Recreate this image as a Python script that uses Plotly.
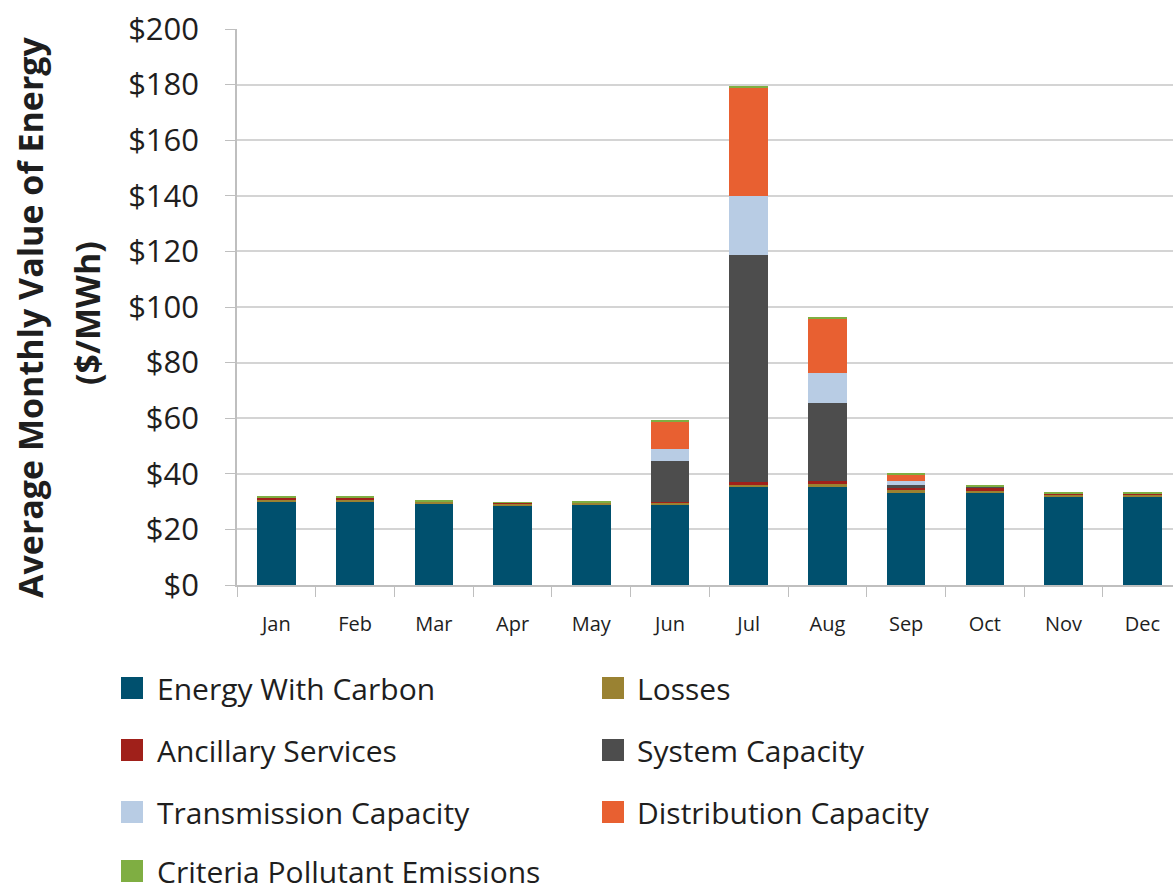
import plotly.graph_objects as go

months = ["Jan", "Feb", "Mar", "Apr", "May", "Jun",
          "Jul", "Aug", "Sep", "Oct", "Nov", "Dec"]

# Components of average monthly energy value ($/MWh), stacked bottom to top
energy_with_carbon = [30.0, 30.0, 29.4, 28.7, 28.8, 28.6, 35.1, 35.1, 33.0, 33.0, 31.6, 31.6]
losses             = [0.6, 0.6, 0.5, 0.6, 0.7, 1.2, 1.0, 1.3, 1.5, 0.8, 1.1, 1.1]
ancillary_services = [0.8, 0.7, 0.2, 0.2, 0.3, 0.2, 0.8, 1.0, 0.4, 1.1, 0.1, 0.1]
system_capacity    = [0.0, 0.0, 0.0, 0.0, 0.0, 14.7, 81.8, 28.1, 1.0, 0.4, 0.0, 0.0]
transmission_cap   = [0.0, 0.0, 0.0, 0.0, 0.0, 4.1, 21.2, 10.6, 1.6, 0.1, 0.0, 0.0]
distribution_cap   = [0.0, 0.0, 0.0, 0.0, 0.0, 9.9, 39.2, 19.9, 2.3, 0.1, 0.0, 0.0]
criteria_pollutant = [0.4, 0.4, 0.3, 0.3, 0.4, 0.3, 0.5, 0.4, 0.5, 0.3, 0.3, 0.3]

series_names = ["Energy With Carbon", "Losses", "Ancillary Services", "System Capacity",
                "Transmission Capacity", "Distribution Capacity", "Criteria Pollutant Emissions"]
series_values = [energy_with_carbon, losses, ancillary_services, system_capacity,
                 transmission_cap, distribution_cap, criteria_pollutant]
series_colors = ["#00506E", "#9A8232", "#A0201A", "#4D4D4D", "#B8CCE4", "#E86031", "#7FAE42"]

y_ticks = list(range(0, 201, 20))
y_tick_labels = [f"${v}" for v in y_ticks]
y_title_lines = ["Average Monthly Value of Energy", "($/MWh)"]

FONT = "Open Sans"
TEXT = "#1E1E1E"
W, H = 1173, 891
ML, MR, MT, MB = 237, 0, 29, 306
plot_w = W - ML - MR
plot_h = H - MT - MB


def px_x(px):
    return (px - ML) / plot_w


def px_y(py):
    return (H - MB - py) / plot_h


fig = go.Figure()
for name, vals, col in zip(series_names, series_values, series_colors):
    fig.add_trace(go.Bar(
        x=months, y=vals, name=name,
        marker=dict(color=col, line=dict(width=0)),
        showlegend=False,
    ))

# Legend drawn as a two-column grid of swatches and labels below the plot
col_swatch_px = [121, 602]
col_text_px = [155, 635]
row_center_px = [688, 750, 812, 871]
sw = 22
shapes = []
annotations = []
for i, (name, col) in enumerate(zip(series_names, series_colors)):
    r, c = divmod(i, 2)
    cx = col_swatch_px[c]
    cy = row_center_px[r]
    shapes.append(dict(type="rect", xref="paper", yref="paper",
                       x0=px_x(cx), x1=px_x(cx + sw),
                       y0=px_y(cy + sw / 2), y1=px_y(cy - sw / 2),
                       fillcolor=col, line=dict(width=0)))
    annotations.append(dict(
        text=name, xref="paper", yref="paper",
        x=px_x(col_text_px[c]), y=px_y(cy),
        xanchor="left", yanchor="middle", showarrow=False,
        font=dict(family=FONT, size=30, color=TEXT),
    ))

# Two-line rotated y-axis title
for text, cx, cy in zip(y_title_lines, [30, 87], [317, 313]):
    annotations.append(dict(
        text=f"<b>{text}</b>", xref="paper", yref="paper",
        x=px_x(cx), y=px_y(cy), xanchor="center", yanchor="middle",
        textangle=-90, showarrow=False,
        font=dict(family=FONT, size=34, color=TEXT),
    ))

fig.update_layout(
    barmode="stack",
    bargap=0.51,
    width=W, height=H,
    margin=dict(l=ML, r=MR, t=MT, b=MB, pad=0),
    paper_bgcolor="white",
    plot_bgcolor="white",
    font=dict(family=FONT, color=TEXT),
    shapes=shapes,
    annotations=annotations,
    xaxis=dict(
        range=[-0.5, 11.39],
        tickfont=dict(family=FONT, size=20, color=TEXT),
        ticklabelstandoff=20,
        showline=True, linecolor="#BFBFBF", linewidth=1.5,
        ticks="outside", tickson="boundaries", ticklen=10, tickcolor="#BFBFBF",
        showgrid=False, zeroline=False,
    ),
    yaxis=dict(
        range=[0, 200],
        tickvals=y_ticks, ticktext=y_tick_labels,
        tickfont=dict(family=FONT, size=31, color=TEXT),
        ticklabelstandoff=20,
        showline=True, linecolor="#BFBFBF", linewidth=1.5,
        ticks="outside", ticklen=10, tickcolor="#BFBFBF",
        showgrid=True, gridcolor="#D4D4D4", gridwidth=1.5,
        zeroline=False,
    ),
)

fig.write_html("out.html")
